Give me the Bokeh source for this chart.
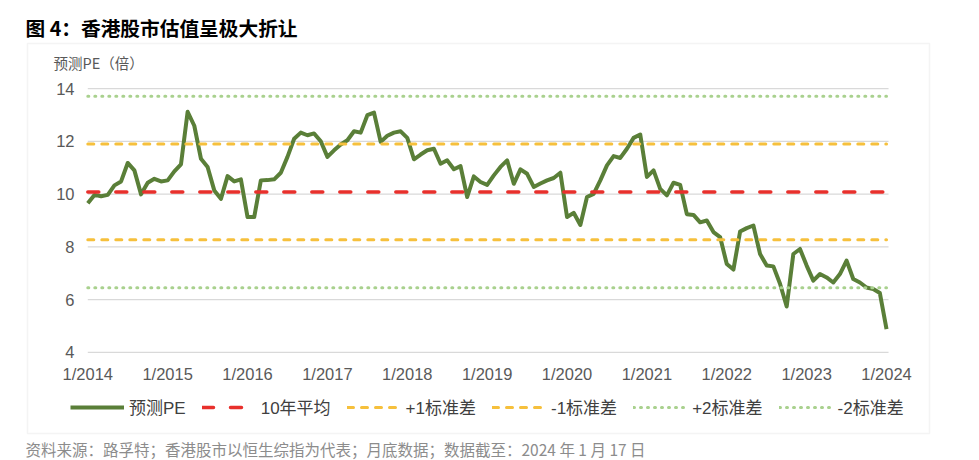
from bokeh.plotting import figure
from bokeh.models import Label, Legend, LegendItem, FixedTicker, BoxAnnotation
from bokeh.embed import file_html
from bokeh.resources import INLINE

# ---- data ----
pe = [9.65, 9.97, 9.92, 9.97, 10.33, 10.48, 11.18, 10.90, 9.99, 10.43, 10.58, 10.48,
      10.52, 10.86, 11.13, 13.12, 12.59, 11.34, 11.03, 10.14, 9.82, 10.68, 10.48, 10.56,
      9.13, 9.13, 10.52, 10.53, 10.56, 10.81, 11.41, 12.10, 12.33, 12.23, 12.30, 12.00,
      11.41, 11.66, 11.88, 12.04, 12.38, 12.33, 12.99, 13.09, 11.98, 12.21, 12.33, 12.38,
      12.13, 11.32, 11.50, 11.66, 11.72, 11.15, 11.28, 10.94, 11.06, 9.89, 10.67, 10.46,
      10.35, 10.71, 11.03, 11.28, 10.39, 10.94, 10.77, 10.27, 10.40, 10.52, 10.61, 10.81,
      9.13, 9.29, 8.83, 9.89, 10.01, 10.52, 11.09, 11.44, 11.37, 11.72, 12.13, 12.26,
      10.65, 10.90, 10.20, 9.95, 10.43, 10.35, 9.24, 9.21, 8.93, 9.00, 8.56, 8.37,
      7.35, 7.14, 8.58, 8.71, 8.81, 7.73, 7.29, 7.26, 6.60, 5.74, 7.73, 7.92,
      7.29, 6.72, 6.97, 6.84, 6.65, 6.97, 7.48, 6.78, 6.65, 6.46, 6.40, 6.25,
      4.88]
months = list(range(len(pe)))          # month index, 0 = 1/2014
mean_pe = 10.08
plus1_sd = 11.90
minus1_sd = 8.27
plus2_sd = 13.71
minus2_sd = 6.45
tick_pos = [0, 12, 24, 36, 48, 60, 72, 84, 96, 108, 120]
tick_labels = ["1/2014", "1/2015", "1/2016", "1/2017", "1/2018", "1/2019",
               "1/2020", "1/2021", "1/2022", "1/2023", "1/2024"]
y_ticks = [4, 6, 8, 10, 12, 14]
legend_labels = ["预测PE", "10年平均", "+1标准差", "-1标准差", "+2标准差", "-2标准差"]

title_text = "图 4：香港股市估值呈极大折让"
ytitle_text = "预测PE（倍）"
footer_text = "资料来源：路孚特；香港股市以恒生综指为代表；月底数据；数据截至：2024 年 1 月 17 日"

# ---- layout geometry (pixels) ----
W, H = 979, 460
X0_PX = 87.3          # x pixel of the first month
PX_PER_MONTH = 6.656
Y4_PX = 351.9         # y pixel (from top) of value 4
PX_PER_UNIT = 26.384

FONT = "Liberation Sans, Noto Sans CJK SC"
CJK = "Noto Sans CJK SC"

x_range = (-X0_PX / PX_PER_MONTH, (W - X0_PX) / PX_PER_MONTH)
y_range = (4 - (H - Y4_PX) / PX_PER_UNIT, 4 + Y4_PX / PX_PER_UNIT)

p = figure(width=W, height=H, output_backend="svg", toolbar_location=None, title=None,
           x_range=x_range, y_range=y_range, min_border=0)
p.outline_line_color = None
p.xgrid.visible = False
p.ygrid.visible = False

n = len(months)
grid_end = 120.3
p.segment(x0=[0] * len(y_ticks), x1=[grid_end] * len(y_ticks), y0=y_ticks, y1=y_ticks,
          line_color="#d9d9d9", line_width=1.2)

r_pe = p.line(months, pe, line_color="#5a7f38", line_width=4, line_join="round")
r_mean = p.line(months, [mean_pe] * n, line_color="#e8302c", line_width=3.5,
                line_dash="11 17", line_cap="round")
r_p1 = p.line(months, [plus1_sd] * n, line_color="#f6c03c", line_width=3,
              line_dash="6 8", line_cap="round")
r_m1 = p.line(months, [minus1_sd] * n, line_color="#f6c03c", line_width=3,
              line_dash="6 8", line_cap="round")
r_p2 = p.line(months, [plus2_sd] * n, line_color="#a9d18e", line_width=3,
              line_dash="1 6", line_cap="round")
r_m2 = p.line(months, [minus2_sd] * n, line_color="#a9d18e", line_width=3,
              line_dash="1 6", line_cap="round")

# axes, drawn inside the canvas at fixed data locations
p.xaxis.ticker = FixedTicker(ticks=tick_pos)
p.xaxis.major_label_overrides = {t: l for t, l in zip(tick_pos, tick_labels)}
p.yaxis.ticker = FixedTicker(ticks=y_ticks)
p.xaxis.fixed_location = 4 - (364 - Y4_PX) / PX_PER_UNIT
p.yaxis.fixed_location = (74 - X0_PX) / PX_PER_MONTH
for ax in (p.xaxis, p.yaxis):
    ax.axis_line_color = None
    ax.major_tick_line_color = None
    ax.minor_tick_line_color = None
    ax.major_tick_out = 0
    ax.major_tick_in = 0
    ax.major_label_text_font = FONT
    ax.major_label_text_font_size = "16.5px"
    ax.major_label_text_color = "#595959"
    ax.major_label_standoff = 0

# outer box
p.add_layout(BoxAnnotation(left=27, right=929, top=H - 43, bottom=H - 433,
                           left_units="screen", right_units="screen",
                           top_units="screen", bottom_units="screen",
                           fill_color=None, fill_alpha=0,
                           line_color="#d9d9d9", line_width=1.5))

# texts
p.add_layout(Label(x=25, y=H - 27, x_units="screen", y_units="screen", text=title_text,
                   text_font=CJK, text_font_size="19.7px", text_font_style="bold",
                   text_color="#000000", text_baseline="middle"))
p.add_layout(Label(x=53, y=H - 62, x_units="screen", y_units="screen", text=ytitle_text,
                   text_font=CJK, text_font_size="14.5px",
                   text_color="#595959", text_baseline="middle"))
p.add_layout(Label(x=25, y=H - 448, x_units="screen", y_units="screen", text=footer_text,
                   text_font=CJK, text_font_size="15.5px",
                   text_color="#8c8c8c", text_baseline="middle"))

# legend
items = [LegendItem(label=l, renderers=[r]) for l, r in
         zip(legend_labels, [r_pe, r_mean, r_p1, r_m1, r_p2, r_m2])]
legend = Legend(items=items, orientation="horizontal", location=(70, H - 409 - 10),
                glyph_width=54, glyph_height=20, label_standoff=5, spacing=16,
                padding=0, margin=0, border_line_color=None, background_fill_alpha=0,
                label_text_font=FONT, label_text_font_size="17px",
                label_text_color="#404040")
p.add_layout(legend, "center")

open("out.html", "w").write(file_html(p, INLINE))
